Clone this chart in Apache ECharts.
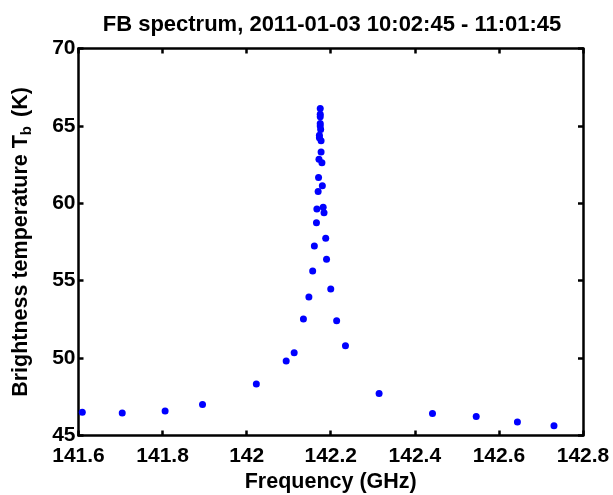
<!DOCTYPE html>
<html lang="en">

<head>
    <meta charset="utf-8">
    <title>FB spectrum</title>
    <script src="https://cdn.jsdelivr.net/npm/echarts@6/dist/echarts.min.js"></script>
    <style>
        html, body { margin: 0; padding: 0; background: #fff; }
    </style>
</head>

<body>
    <div style="width: 613px; height: 495px;" id="spectrum"></div>

    <script type="text/javascript">
        // frequency (GHz) and brightness temperature (K)
        var freq = [
            141.609, 141.704, 141.806, 141.895, 142.023, 142.094, 142.113, 142.135,
            142.148, 142.157, 142.161, 142.166, 142.167, 142.170, 142.171, 142.172,
            142.173, 142.173, 142.175, 142.175, 142.175, 142.175, 142.175, 142.176,
            142.177, 142.177, 142.179, 142.180, 142.182, 142.184, 142.188, 142.190,
            142.200, 142.214, 142.235, 142.315, 142.442, 142.546, 142.644, 142.731
        ];
        var tb = [
            46.51, 46.45, 46.59, 47.00, 48.32, 49.82, 50.34, 52.53,
            53.95, 55.63, 57.24, 58.75, 59.63, 60.77, 61.67, 62.84,
            64.40, 64.23, 66.13, 65.76, 65.59, 65.16, 64.99, 64.77,
            64.04, 63.31, 62.62, 61.13, 59.74, 59.39, 57.74, 56.38,
            54.47, 52.42, 50.79, 47.71, 46.42, 46.23, 45.88, 45.63
        ];
        var xRange = [141.6, 142.8];
        var yRange = [45, 70];

        var points = [];
        for (var i = 0; i < freq.length; i++) {
            points.push([freq[i], tb[i]]);
        }

        var font = 'Liberation Sans, Arial, Helvetica, sans-serif';
        var axisLine = { show: true, onZero: false, lineStyle: { color: '#000', width: 2.5 } };
        var tick = { show: true, inside: true, length: 5, lineStyle: { color: '#000', width: 2.5 } };

        var myChart = echarts.init(document.getElementById('spectrum'));
        var option = {
            backgroundColor: '#fff',
            animation: false,
            title: {
                text: 'FB spectrum, 2011-01-03 10:02:45 - 11:01:45',
                left: 327,
                textAlign: 'center',
                top: 9,
                textStyle: { fontFamily: font, fontSize: 22, fontWeight: 'bold', color: '#000' }
            },
            grid: {
                left: 78.5,
                right: 30,
                top: 48.5,
                bottom: 59.5,
                outerBoundsMode: 'none'
            },
            xAxis: [{
                type: 'value',
                min: xRange[0],
                max: xRange[1],
                interval: 0.2,
                axisLine: axisLine,
                axisTick: tick,
                splitLine: { show: false },
                axisLabel: {
                    margin: 10,
                    color: '#000',
                    fontFamily: font,
                    fontSize: 21,
                    fontWeight: 'bold',
                    formatter: function (v) { return String(+v.toFixed(1)); }
                },
                name: 'Frequency (GHz)',
                nameLocation: 'middle',
                nameGap: 35,
                nameTextStyle: { color: '#000', fontFamily: font, fontSize: 21.5, fontWeight: 'bold' }
            }, {
                type: 'value',
                position: 'top',
                min: xRange[0],
                max: xRange[1],
                interval: 0.2,
                axisLine: axisLine,
                axisTick: tick,
                axisLabel: { show: false },
                splitLine: { show: false }
            }],
            yAxis: [{
                type: 'value',
                min: yRange[0],
                max: yRange[1],
                interval: 5,
                axisLine: axisLine,
                axisTick: tick,
                splitLine: { show: false },
                axisLabel: {
                    margin: 3,
                    color: '#000',
                    fontFamily: font,
                    fontSize: 21,
                    fontWeight: 'bold'
                },
                name: 'Brightness temperature T{sub|b} (K)',
                nameLocation: 'middle',
                nameRotate: 90,
                nameGap: 44,
                nameTextStyle: {
                    color: '#000',
                    fontFamily: font,
                    fontSize: 21.5,
                    fontWeight: 'bold',
                    rich: {
                        sub: {
                            color: '#000',
                            fontFamily: font,
                            fontSize: 15,
                            fontWeight: 'bold',
                            verticalAlign: 'bottom',
                            padding: [12, 3, 0, 0]
                        }
                    }
                }
            }, {
                type: 'value',
                position: 'right',
                min: yRange[0],
                max: yRange[1],
                interval: 5,
                axisLine: axisLine,
                axisTick: tick,
                axisLabel: { show: false },
                splitLine: { show: false }
            }],
            series: [{
                type: 'scatter',
                xAxisIndex: 0,
                yAxisIndex: 0,
                symbol: 'circle',
                symbolSize: 7,
                itemStyle: { color: '#0000ff', opacity: 1 },
                data: points
            }]
        };
        myChart.setOption(option);
    </script>
</body>

</html>
